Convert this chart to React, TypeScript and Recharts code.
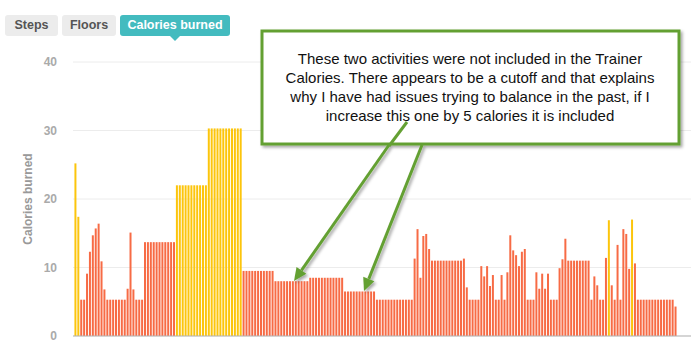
import { Bar, BarChart, CartesianGrid, Cell, XAxis, YAxis } from "recharts"

const tabs = ["Steps", "Floors", "Calories burned"]
const activeTab = "Calories burned"

const yTicks = [0, 10, 20, 30, 40]

// calories burned per minute left to right
const calories = [
  25.2, 17.4, 5.3, 5.3, 9.1, 12.3, 14.7, 15.7, 16.4, 10.9,
  6.8, 5.3, 5.3, 5.3, 5.3, 5.3, 5.3, 5.3, 6.9, 15.1,
  6.8, 5.3, 5.3, 5.3, 13.7, 13.7, 13.7, 13.7, 13.7, 13.7,
  13.7, 13.7, 13.7, 13.7, 13.7, 22.0, 22.0, 22.0, 22.0, 22.0,
  22.0, 22.0, 22.0, 22.0, 22.0, 22.0, 30.3, 30.3, 30.3, 30.3,
  30.3, 30.3, 30.3, 30.3, 30.3, 30.3, 30.3, 30.3, 9.5, 9.5,
  9.5, 9.5, 9.5, 9.5, 9.5, 9.5, 9.5, 9.5, 9.5, 8.0,
  8.0, 8.0, 8.0, 8.0, 8.0, 8.0, 8.0, 8.0, 8.0, 8.0,
  8.0, 8.5, 8.5, 8.5, 8.5, 8.5, 8.5, 8.5, 8.5, 8.5,
  8.5, 8.5, 8.5, 6.5, 6.5, 6.5, 6.5, 6.5, 6.5, 6.5,
  6.5, 6.5, 6.5, 6.5, 5.3, 5.3, 5.3, 5.3, 5.3, 5.3,
  5.3, 5.3, 5.3, 5.3, 5.3, 5.3, 5.3, 11.3, 15.6, 8.5,
  14.6, 14.9, 12.7, 11.0, 11.0, 11.0, 11.0, 11.0, 11.0, 11.0,
  11.0, 11.0, 11.0, 11.0, 11.3, 7.1, 5.3, 5.3, 5.3, 5.3,
  10.2, 8.7, 10.2, 7.3, 8.9, 5.3, 5.3, 8.9, 5.3, 9.3,
  14.7, 12.5, 11.8, 10.2, 12.3, 12.7, 5.3, 5.3, 5.3, 9.3,
  6.9, 9.1, 6.9, 9.1, 5.3, 5.3, 5.3, 9.9, 11.2, 14.2,
  11.0, 11.0, 11.0, 11.0, 11.0, 11.0, 11.0, 11.0, 5.3, 8.7,
  7.4, 5.3, 5.3, 11.4, 16.9, 7.4, 5.3, 13.3, 5.3, 15.6,
  14.9, 9.8, 17.0, 10.6, 5.3, 5.3, 5.3, 5.3, 5.3, 5.3,
  5.3, 5.3, 5.3, 5.3, 5.3, 5.3, 5.3, 4.3,
]

const minutes = calories.map((_, i) => `m${i}`)

// bars at or above this level are drawn in the "active" colour
const ACTIVE_MIN = 16.5

const noteLines = [
  "These two activities were not included in the Trainer",
  "Calories. There appears to be a cutoff and that explains",
  "why I have had issues trying to balance in the past, if I",
  "increase this one by 5 calories it is included",
]

const data = minutes.map((m, i) => ({ minute: m, kcal: calories[i] }))

const ORANGE = "#f76b45"
const YELLOW = "#fcc50c"
const TEAL = "#43bbbf"
const GREEN = "#64a033"
const FONT = "'Liberation Sans', Arial, sans-serif"

function Arrow({ x1, y1, x2, y2 }: { x1: number; y1: number; x2: number; y2: number }) {
  const dx = x2 - x1
  const dy = y2 - y1
  const len = Math.sqrt(dx * dx + dy * dy)
  const ux = dx / len
  const uy = dy / len
  const head = 13
  const half = 6
  const bx = x2 - ux * head
  const by = y2 - uy * head
  const pts = `${x2},${y2} ${bx - uy * half},${by + ux * half} ${bx + uy * half},${by - ux * half}`
  return (
    <g>
      <line x1={x1} y1={y1} x2={bx} y2={by} stroke={GREEN} strokeWidth={3} />
      <polygon points={pts} fill={GREEN} />
    </g>
  )
}

function Callout() {
  return (
    <svg width={691} height={361} style={{ position: "absolute", left: 0, top: 0, pointerEvents: "none" }}>
      <defs>
        <filter id="shadow" x="-10%" y="-10%" width="130%" height="140%">
          <feDropShadow dx="2" dy="2" stdDeviation="1.5" floodColor="#000" floodOpacity="0.35" />
        </filter>
      </defs>
      <g filter="url(#shadow)">
        <rect x={262} y={31} width={417} height={113} fill="#fff" stroke={GREEN} strokeWidth={3} />
        <Arrow x1={389} y1={145} x2={294} y2={281} />
        <Arrow x1={422} y1={145} x2={364} y2={291} />
      </g>
      <line x1={407} y1={122} x2={389} y2={146} stroke={GREEN} strokeWidth={3} />
      {noteLines.map((t, i) => (
        <text key={i} x={470} y={64 + i * 19} textAnchor="middle" fontSize={15} fill="#111" fontFamily={FONT}>
          {t}
        </text>
      ))}
    </svg>
  )
}

export default function App() {
  return (
    <div style={{ position: "absolute", left: 0, top: 0, width: 691, height: 361, background: "#fff", fontFamily: FONT }}>
      {tabs.map((t, i) => {
        const lefts = [5, 62, 120]
        const widths = [53, 54, 110]
        const on = t === activeTab
        return (
          <div
            key={t}
            style={{
              position: "absolute",
              left: lefts[i],
              top: 15,
              width: widths[i],
              height: 21,
              lineHeight: "21px",
              textAlign: "center",
              borderRadius: 3,
              background: on ? TEAL : "#ececec",
              color: on ? "#fff" : "#555",
              fontWeight: "bold",
              fontSize: 12.5,
            }}
          >
            {t}
            {on && (
              <div
                style={{
                  position: "absolute",
                  left: widths[i] / 2 - 5,
                  top: 21,
                  width: 0,
                  height: 0,
                  borderLeft: "5px solid transparent",
                  borderRight: "5px solid transparent",
                  borderTop: `5px solid ${TEAL}`,
                }}
              />
            )}
          </div>
        )
      })}
      <BarChart
        width={691}
        height={361}
        data={data}
        margin={{ top: 62, right: 0, left: 0, bottom: 24 }}
        barCategoryGap="15%"
      >
        <CartesianGrid vertical={false} stroke="#ececec" />
        <XAxis
          dataKey="minute"
          height={1}
          tick={false}
          tickLine={false}
          axisLine={{ stroke: "#b5b5b5" }}
          padding={{ left: 1, right: 14 }}
        />
        <YAxis
          width={73}
          domain={[0, 40]}
          ticks={yTicks}
          axisLine={false}
          tickLine={false}
          tickMargin={10}
          tick={{ fill: "#aaa", fontSize: 12, fontWeight: "bold", fontFamily: FONT }}
          label={{
            value: "Calories burned",
            angle: -90,
            position: "insideLeft",
            offset: 28,
            style: { textAnchor: "middle", fill: "#999", fontSize: 12, fontWeight: "bold", fontFamily: FONT },
          }}
        />
        <Bar dataKey="kcal" isAnimationActive={false}>
          {calories.map((v, i) => (
            <Cell key={i} fill={v >= ACTIVE_MIN ? YELLOW : ORANGE} />
          ))}
        </Bar>
      </BarChart>
      <Callout />
    </div>
  )
}
